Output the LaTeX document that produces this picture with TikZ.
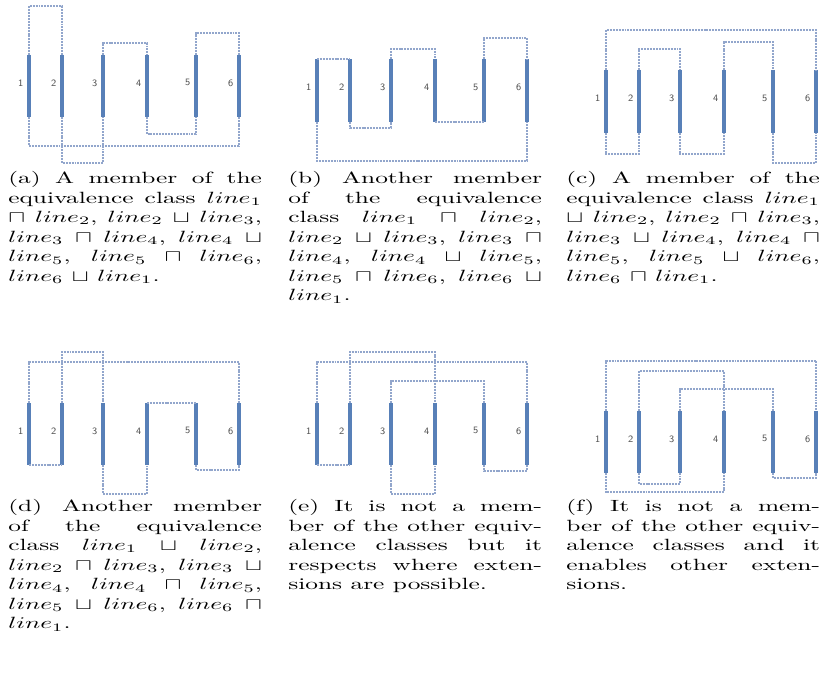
\documentclass[tikz,border=0pt]{standalone}
\usepackage{amssymb}
\usepackage{graphicx}
\usepackage{tikz}
\usetikzlibrary{calc}

\definecolor{barblue}{RGB}{88,128,184}
\definecolor{linkblue}{RGB}{146,166,204}
\definecolor{numgray}{RGB}{80,80,80}
\newcommand{\pxu}{0.615pt}
\newcommand{\capbox}[1]{\scalebox{1.56}[1]{\parbox[t]{100pt}{#1}}}

\begin{document}
\begin{tikzpicture}[
  x=\pxu, y=-\pxu,
  bar/.style={draw=barblue, line width=2.1pt},
  link/.style={draw=linkblue, line width=1pt, dash pattern=on 1.2pt off 0.6pt},
  num/.style={font=\sffamily\fontsize{6}{7}\selectfont, text=numgray, inner sep=0.5pt},
  subcap/.style={anchor=north west, inner sep=0pt, font=\fontsize{10}{12}\selectfont},
]
\useasboundingbox (0,0) rectangle (824,677);

% the six lines of every panel
\foreach \pn/\dx/\top/\bot in {a/0/55/117, b/288/59/122, c/577/70/133,
                               d/0/403/465, e/288/403/465, f/577/411/473}{
  \foreach \x [count=\i] in {29,62,103,147,196,239}{
    \coordinate (\pn t\i) at (\x+\dx,\top);
    \coordinate (\pn b\i) at (\x+\dx,\bot);
    \draw[bar] (\pn t\i) -- node[num, left=2pt, pos=0.45] {\i} (\pn b\i);
  }
}

% extensions between line ends
\foreach \p/\q/\h in {at1/at2/6, ab1/ab6/146, ab2/ab3/163, at3/at4/43, ab4/ab5/134, at5/at6/33,
                      bt1/bt2/59, bb2/bb3/128, bt3/bt4/49, bb4/bb5/122, bt5/bt6/38, bb1/bb6/161,
                      ct1/ct6/30, cb1/cb2/154, ct2/ct3/49, cb3/cb4/154, ct4/ct5/42, cb5/cb6/163,
                      dt1/dt6/362, db1/db2/465, dt2/dt3/352, db3/db4/494, dt4/dt5/403, db5/db6/470,
                      et1/et6/362, eb1/eb2/465, et2/et4/352, et3/et5/381, eb3/eb4/494, eb5/eb6/471,
                      ft1/ft6/361, ft2/ft4/371, ft3/ft5/389, fb2/fb3/484, fb1/fb4/492, fb5/fb6/478}{
  \draw[link] (\p) -- (\p |- 0,\h) -| (\q);
}

% captions
\node[subcap] (capa) at (8,171) {\capbox{(a) A member of the\linebreak
  equivalence class $line_1$\linebreak
  $\sqcap$ $line_2$, $line_2$ $\sqcup$ $line_3$,\linebreak
  $line_3$ $\sqcap$ $line_4$, $line_4$ $\sqcup$\linebreak
  $line_5$, $line_5$ $\sqcap$ $line_6$,\linebreak
  $line_6$ $\sqcup$ $line_1$.}};
\node[subcap] (capb) at (288,171) {\capbox{(b) Another member\linebreak
  of the equivalence\linebreak
  class $line_1$ $\sqcap$ $line_2$,\linebreak
  $line_2$ $\sqcup$ $line_3$, $line_3$ $\sqcap$\linebreak
  $line_4$, $line_4$ $\sqcup$ $line_5$,\linebreak
  $line_5$ $\sqcap$ $line_6$, $line_6$ $\sqcup$\linebreak
  $line_1$.}};
\node[subcap] (capc) at (566,171) {\capbox{(c) A member of the\linebreak
  equivalence class $line_1$\linebreak
  $\sqcup$ $line_2$, $line_2$ $\sqcap$ $line_3$,\linebreak
  $line_3$ $\sqcup$ $line_4$, $line_4$ $\sqcap$\linebreak
  $line_5$, $line_5$ $\sqcup$ $line_6$,\linebreak
  $line_6$ $\sqcap$ $line_1$.}};
\node[subcap] (capd) at (8,499) {\capbox{(d) Another member\linebreak
  of the equivalence\linebreak
  class $line_1$ $\sqcup$ $line_2$,\linebreak
  $line_2$ $\sqcap$ $line_3$, $line_3$ $\sqcup$\linebreak
  $line_4$, $line_4$ $\sqcap$ $line_5$,\linebreak
  $line_5$ $\sqcup$ $line_6$, $line_6$ $\sqcap$\linebreak
  $line_1$.}};
\node[subcap] (cape) at (288,499) {\capbox{(e) It is not a mem-\linebreak
  ber of the other equiv-\linebreak
  alence classes but it\linebreak
  respects where exten-\linebreak
  sions are possible.}};
\node[subcap] (capf) at (566,499) {\capbox{(f) It is not a mem-\linebreak
  ber of the other equiv-\linebreak
  alence classes and it\linebreak
  enables other exten-\linebreak
  sions.}};

\end{tikzpicture}
\end{document}
